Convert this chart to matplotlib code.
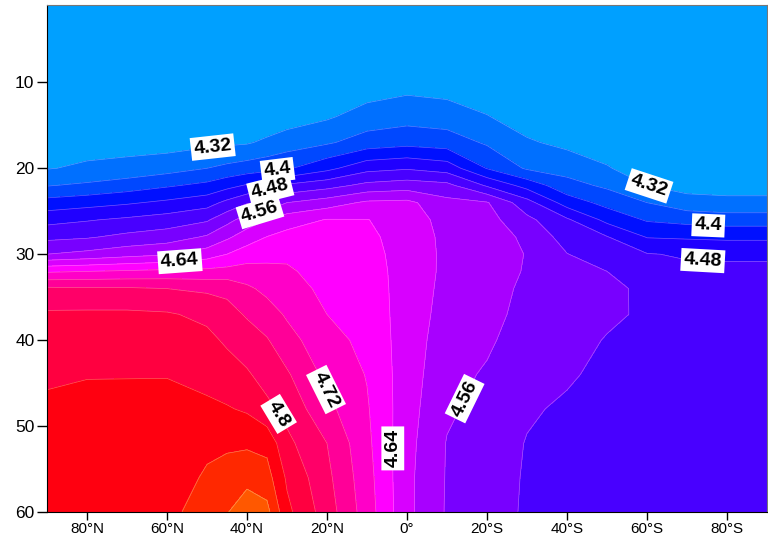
import numpy as np
import matplotlib.pyplot as plt

plt.rcParams['font.family'] = ['Liberation Sans', 'DejaVu Sans']

# section grid: latitude (north positive) and depth level
lats = [90, 80, 70, 60, 50, 45, 40, 35, 30, 20, 10, 0, -10, -20, -30, -40, -50, -60, -70, -80, -90]
depths = [1, 10, 14, 17, 20, 22, 24, 26, 28, 30, 32, 34, 37, 40, 44, 48, 52, 56, 60]

# one profile per latitude (top -> bottom)
p90n = [4.22, 4.27, 4.29, 4.305, 4.318, 4.358, 4.416, 4.467, 4.51, 4.56, 4.675, 4.767, 4.806, 4.818, 4.836, 4.845, 4.85, 4.855, 4.86]
p80n = [4.22, 4.27, 4.29, 4.305, 4.326, 4.367, 4.425, 4.477, 4.516, 4.571, 4.68, 4.765, 4.807, 4.82, 4.839, 4.846, 4.852, 4.859, 4.865]
p70n = [4.22, 4.27, 4.29, 4.305, 4.332, 4.38, 4.435, 4.487, 4.53, 4.585, 4.685, 4.765, 4.807, 4.82, 4.839, 4.847, 4.854, 4.862, 4.87]
p60n = [4.22, 4.27, 4.285, 4.303, 4.344, 4.395, 4.448, 4.498, 4.54, 4.596, 4.69, 4.76, 4.804, 4.818, 4.839, 4.848, 4.855, 4.86, 4.865]
p50n = [4.22, 4.265, 4.283, 4.31, 4.36, 4.41, 4.464, 4.515, 4.565, 4.62, 4.691, 4.753, 4.791, 4.81, 4.829, 4.847, 4.872, 4.885, 4.905]
p45n = [4.22, 4.262, 4.284, 4.313, 4.37, 4.427, 4.49, 4.547, 4.593, 4.64, 4.694, 4.75, 4.774, 4.794, 4.818, 4.843, 4.873, 4.897, 4.918]
p40n = [4.22, 4.26, 4.285, 4.316, 4.379, 4.444, 4.516, 4.578, 4.62, 4.66, 4.697, 4.727, 4.756, 4.778, 4.805, 4.835, 4.873, 4.91, 4.94]
p35n = [4.22, 4.265, 4.29, 4.328, 4.386, 4.46, 4.527, 4.60, 4.641, 4.668, 4.691, 4.71, 4.738, 4.763, 4.784, 4.81, 4.868, 4.896, 4.932]
p30n = [4.22, 4.27, 4.30, 4.34, 4.395, 4.487, 4.56, 4.622, 4.653, 4.672, 4.686, 4.697, 4.715, 4.735, 4.765, 4.787, 4.81, 4.834, 4.85]
p20n = [4.22, 4.28, 4.315, 4.355, 4.429, 4.505, 4.58, 4.642, 4.649, 4.656, 4.663, 4.67, 4.68, 4.693, 4.709, 4.731, 4.76, 4.77, 4.78]
p10n = [4.22, 4.295, 4.337, 4.378, 4.467, 4.531, 4.607, 4.641, 4.646, 4.65, 4.654, 4.658, 4.664, 4.67, 4.678, 4.684, 4.689, 4.695, 4.70]
p0 = [4.22, 4.305, 4.345, 4.387, 4.476, 4.54, 4.61, 4.625, 4.628, 4.628, 4.627, 4.625, 4.622, 4.62, 4.618, 4.616, 4.613, 4.61, 4.61]
p10s = [4.22, 4.30, 4.34, 4.38, 4.462, 4.531, 4.572, 4.582, 4.588, 4.59, 4.59, 4.588, 4.585, 4.58, 4.574, 4.566, 4.558, 4.557, 4.556]
p20s = [4.22, 4.29, 4.322, 4.355, 4.398, 4.475, 4.563, 4.575, 4.58, 4.582, 4.582, 4.58, 4.575, 4.567, 4.555, 4.547, 4.542, 4.539, 4.537]
p30s = [4.22, 4.275, 4.30, 4.325, 4.355, 4.425, 4.495, 4.53, 4.552, 4.558, 4.556, 4.55, 4.545, 4.538, 4.532, 4.525, 4.518, 4.516, 4.515]
p40s = [4.22, 4.26, 4.29, 4.31, 4.345, 4.374, 4.422, 4.486, 4.503, 4.521, 4.53, 4.535, 4.535, 4.532, 4.525, 4.514, 4.508, 4.505, 4.503]
p50s = [4.22, 4.255, 4.28, 4.30, 4.323, 4.353, 4.387, 4.429, 4.482, 4.50, 4.52, 4.527, 4.526, 4.518, 4.51, 4.505, 4.503, 4.502, 4.50]
p60s = [4.22, 4.25, 4.27, 4.285, 4.30, 4.32, 4.36, 4.396, 4.438, 4.482, 4.495, 4.514, 4.515, 4.512, 4.505, 4.503, 4.502, 4.501, 4.50]
p70s = [4.22, 4.25, 4.265, 4.28, 4.295, 4.305, 4.336, 4.387, 4.435, 4.476, 4.488, 4.494, 4.498, 4.50, 4.50, 4.50, 4.50, 4.50, 4.50]
p80s = [4.22, 4.25, 4.265, 4.28, 4.295, 4.305, 4.33, 4.381, 4.432, 4.474, 4.488, 4.494, 4.498, 4.50, 4.50, 4.50, 4.50, 4.50, 4.50]
p90s = [4.22, 4.25, 4.265, 4.28, 4.295, 4.305, 4.33, 4.381, 4.432, 4.474, 4.488, 4.494, 4.498, 4.50, 4.50, 4.50, 4.50, 4.50, 4.50]

profiles = [p90n, p80n, p70n, p60n, p50n, p45n, p40n, p35n, p30n, p20n, p10n, p0,
            p10s, p20s, p30s, p40s, p50s, p60s, p70s, p80s, p90s]

xtick_vals = [80, 60, 40, 20, 0, -20, -40, -60, -80]
xtick_labels = ['80°N', '60°N', '40°N', '20°N', '0°', '20°S', '40°S', '60°S', '80°S']
ytick_vals = [10, 20, 30, 40, 50, 60]

# contour interval 0.04, every second line labelled
lines = np.round(np.arange(4.32, 4.97, 0.04), 2)
label_levels = lines[::2][:7]
plain_levels = [v for v in lines if v not in label_levels]
band_colors = ['#00a0ff', '#0070ff', '#0048ff', '#0010ff', '#2000ff', '#4800ff',
               '#7800ff', '#a800ff', '#d800ff', '#ff00ff', '#ff00c8', '#ff0098',
               '#ff0068', '#ff0040', '#ff0010', '#ff2800', '#ff5800']

# where the labels sit (lat, depth)
label_pos = [(48.5, 17.9), (32.3, 20.5), (34.3, 22.3), (36.8, 25.0), (56.8, 30.7),
             (-60.8, 21.4), (-75.3, 26.9), (-74.0, 30.3), (20.5, 45.8),
             (32.5, 48.7), (4.8, 52.6), (-13.5, 46.6)]

Z = np.array(profiles).T

fig = plt.figure(figsize=(7.68, 5.37), dpi=100)
ax = fig.add_axes([47 / 768, 25 / 537, 720 / 768, 507 / 537])

levels = np.concatenate([[4.0], lines])
ax.contourf(lats, depths, Z, levels=levels, colors=band_colors)
ax.contour(lats, depths, Z, levels=plain_levels, colors='white', linewidths=0.5, alpha=0.35)
cs = ax.contour(lats, depths, Z, levels=label_levels, colors='white', linewidths=0.5, alpha=0.35)

texts = ax.clabel(cs, manual=label_pos, fmt='%g', fontsize=14, colors='black',
                  inline=True, inline_spacing=2)
for t in texts:
    t.set_fontweight('bold')
    t.set_alpha(1)
    t.set_bbox(dict(boxstyle='square,pad=0.15', fc='white', ec='none'))
    # vertical labels read bottom-to-top
    if abs(t.get_rotation() - 270) < 25:
        t.set_rotation(t.get_rotation() - 180)

ax.set_xlim(90, -90)
ax.set_ylim(60, 1)
ax.set_xticks(xtick_vals)
ax.set_xticklabels(xtick_labels)
ax.set_yticks(ytick_vals)
ax.tick_params(axis='y', direction='out', length=7, width=1, pad=2, labelsize=12.5)
ax.tick_params(axis='x', direction='out', length=6, width=1, pad=1.5, labelsize=11)
for side in ['top', 'right']:
    ax.spines[side].set_color('#777777')

fig.savefig('out.png', dpi=100)
